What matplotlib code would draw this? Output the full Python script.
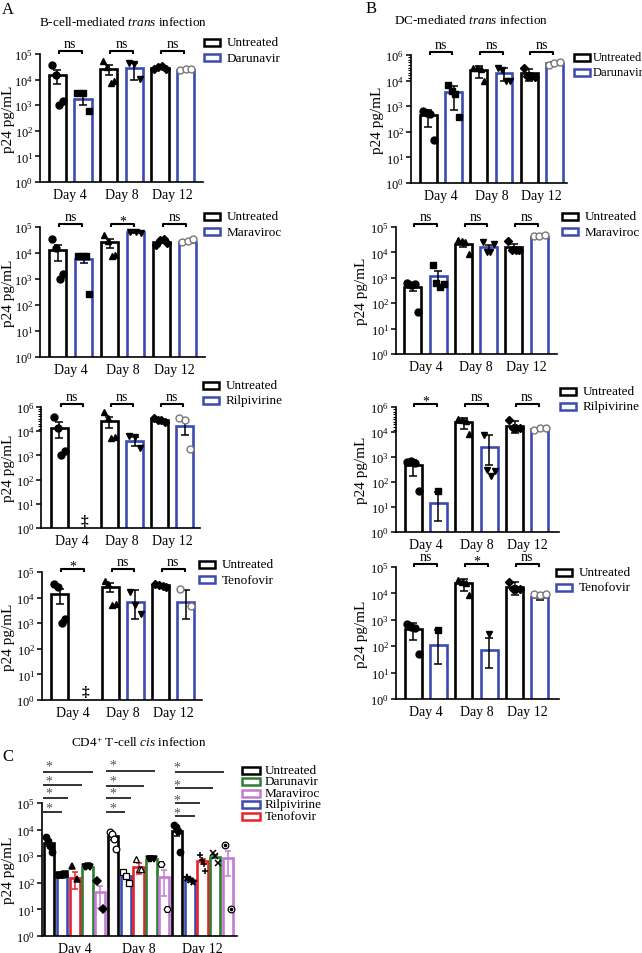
import numpy as np
import matplotlib
matplotlib.use("Agg")
import matplotlib.pyplot as plt
from matplotlib.patches import Rectangle
from matplotlib.ticker import NullFormatter, NullLocator

plt.rcParams['font.family'] = ['Liberation Serif', 'DejaVu Serif']
plt.rcParams['mathtext.fontset'] = 'custom'
plt.rcParams['mathtext.rm'] = 'Liberation Serif'
plt.rcParams['mathtext.it'] = 'Liberation Serif:italic'
plt.rcParams['mathtext.bf'] = 'Liberation Serif:bold'

# ------------------------- data -------------------------
days = ["Day 4", "Day 8", "Day 12"]

# A: B-cell-mediated trans infection
A1_drug = "Darunavir"
A1_unt_mean = [15000, 26000, 28000]
A1_unt_err = [8000, 11000, 3000]
A1_unt_pts = [[37000, 15000, 1000, 1400], [55000, 31000, 7700, 9000], [25000, 31000, 33000, 27000]]
A1_drug_mean = [1700, 28000, 24500]
A1_drug_err = [650, 18000, 1500]
A1_drug_pts = [[3000, 2900, 600], [45000, 42000, 10500], [23000, 25000, 27000]]
A1_sig = ["ns", "ns", "ns"]

A2_drug = "Maraviroc"
A2_unt_mean = [13000, 26000, 27000]
A2_unt_err = [8000, 10000, 3000]
A2_unt_pts = [[35000, 15000, 1000, 1500], [50000, 29000, 7500, 8500], [20000, 32000, 34000, 25000]]
A2_drug_mean = [6000, 62000, 27000]
A2_drug_err = [2000, 3000, 2000]
A2_drug_pts = [[8000, 8000, 7500, 270], [65000, 62000, 60000], [26000, 28000, 35000]]
A2_sig = ["ns", "*", "ns"]

A3_drug = "Rilpivirine"
A3_unt_mean = [14000, 27000, 30000]
A3_unt_err = [9000, 13000, 3000]
A3_unt_pts = [[38000, 14000, 1000, 1500], [60000, 35000, 5000, 5500], [35000, 30000, 28000, 25000]]
A3_drug_mean = [np.nan, 4000, 17000]
A3_drug_err = [0, 1500, 10000]
A3_drug_pts = [[], [6500, 6000, 2000], [35000, 29000, 1800]]
A3_sig = ["ns", "ns", "ns"]

A4_drug = "Tenofovir"
A4_unt_mean = [13500, 27000, 30000]
A4_unt_err = [8000, 10000, 3000]
A4_unt_pts = [[35000, 25000, 1000, 1500], [45000, 35000, 5000, 5500], [35000, 30000, 28000, 25000]]
A4_drug_mean = [np.nan, 7000, 7000]
A4_drug_err = [0, 12000, 12000]
A4_drug_pts = [[], [16000, 5000, 2200], [22000, 4600]]
A4_sig = ["*", "ns", "ns"]

# B: DC-mediated trans infection
B1_drug = "Darunavir"
B1_unt_mean = [450, 25000, 19000]
B1_unt_err = [290, 12000, 9000]
B1_unt_pts = [[650, 550, 500, 48], [32000, 30000, 28000, 10000], [30000, 15000, 15000, 14000]]
B1_drug_mean = [3500, 20000, 48000]
B1_drug_err = [2800, 10000, 5000]
B1_drug_pts = [[6500, 4000, 3000, 380], [32000, 25000, 10000, 10000], [42000, 50000, 55000]]
B1_sig = ["ns", "ns", "ns"]

B2_drug = "Maraviroc"
B2_unt_mean = [430, 21000, 17000]
B2_unt_err = [130, 5000, 3500]
B2_unt_pts = [[600, 520, 550, 45], [30000, 28000, 25000, 8500], [27000, 13000, 13000, 13000]]
B2_drug_mean = [1200, 16000, 42000]
B2_drug_err = [700, 4000, 2000]
B2_drug_pts = [[3300, 600, 420, 550], [25000, 10000, 10000, 22000], [43000, 45000, 47000]]
B2_sig = ["ns", "ns", "ns"]

B3_drug = "Rilpivirine"
B3_unt_mean = [460, 25000, 18000]
B3_unt_err = [290, 12000, 9000]
B3_unt_pts = [[650, 700, 550, 44], [32000, 30000, 27000, 8500], [30000, 15000, 15000, 15000]]
B3_drug_mean = [14, 2500, 13000]
B3_drug_err = [25, 5000, 1500]
B3_drug_pts = [[45], [7500, 300, 180, 280], [12000, 14000, 15000]]
B3_sig = ["*", "ns", "ns"]

B4_drug = "Tenofovir"
B4_unt_mean = [460, 24000, 18000]
B4_unt_err = [290, 12000, 9000]
B4_unt_pts = [[700, 550, 500, 50], [32000, 28000, 25000, 9000], [28000, 15000, 15000, 15000]]
B4_drug_mean = [110, 72, 7000]
B4_drug_err = [300, 140, 1500]
B4_drug_pts = [[420], [300], [9500, 9000, 9200]]
B4_sig = ["ns", "*", "ns"]

# C: CD4+ T-cell cis infection (bar order per day: Untreated, Rilpivirine, Tenofovir, Darunavir, Maraviroc)
C_treatments = ["Untreated", "Rilpivirine", "Tenofovir", "Darunavir", "Maraviroc"]
C_legend_order = ["Untreated", "Darunavir", "Maraviroc", "Rilpivirine", "Tenofovir"]
C_untreated_mean = [3200, 5600, 8700]
C_untreated_err = [700, 1400, 2800]
C_untreated_pts = [[5100, 3800, 2500, 1400], [8300, 6900, 4500, 1870], [15000, 12000, 8500, 1500]]
C_rilpivirine_mean = [200, 178, 133]
C_rilpivirine_err = [10, 40, 15]
C_rilpivirine_pts = [[200, 205, 210], [265, 178, 100], [150, 125, 110]]
C_tenofovir_mean = [155, 390, 650]
C_tenofovir_err = [95, 170, 150]
C_tenofovir_pts = [[445, 140], [790, 330, 340], [1100, 750, 500, 290]]
C_darunavir_mean = [390, 790, 970]
C_darunavir_err = [30, 50, 100]
C_darunavir_pts = [[400, 390, 410, 400], [800, 790, 780], [1300, 1050, 560]]
C_maraviroc_mean = [45, 163, 870]
C_maraviroc_err = [34, 150, 730]
C_maraviroc_pts = [[115, 10], [490, 10], [2650, 10]]
C_sig = [["*", "*", "*", "*"], ["*", "*", "*", "*"], ["*", "*", "*", "*"]]

# ------------------------- styling -------------------------
W, H = 642, 954
fig = plt.figure(figsize=(W / 100, H / 100), dpi=100)
BLUE = "#3b4bb0"
C_colors = {"Untreated": "black", "Rilpivirine": "#3b4bb0", "Tenofovir": "#e8222a",
            "Darunavir": "#2e7d32", "Maraviroc": "#c27bd3"}


def add_ax(x0, x1, y0, y1):
    return fig.add_axes([x0 / W, 1 - y1 / H, (x1 - x0) / W, (y1 - y0) / H])


def px(x, y):
    return x / W, 1 - y / H


def legend_px(x, y, labels, colors, dy=15.5, hw=16, hh=7, fs=9.5, tx=23):
    for k, (lab, col) in enumerate(zip(labels, colors)):
        yy = y + k * dy
        fig.patches.append(Rectangle(px(x, yy + hh / 2), hw / W, hh / H, transform=fig.transFigure,
                                     fill=False, edgecolor=col, lw=1.8))
        fig.text(*px(x + tx, yy), lab, va='center', ha='left', fontsize=fs)


def style_log_axis(ax, top_label, ylabel_x, rect, ticks_top=5):
    ax.set_yscale('log')
    ax.set_ylim(1, 10 ** ticks_top)
    ticks = [10 ** k for k in range(ticks_top + 1)]
    labels = [r"$10^{%d}$" % k for k in range(ticks_top + 1)]
    labels[-1] = r"$10^{%d}$" % top_label
    ax.set_yticks(ticks)
    ax.set_yticklabels(labels, fontsize=9)
    if top_label == 6:
        ax.set_yticks(10 ** np.linspace(4.1, 4.92, 9), minor=True)
    else:
        ax.yaxis.set_minor_locator(NullLocator())
    ax.yaxis.set_minor_formatter(NullFormatter())
    ax.tick_params(axis='y', which='major', length=3.5, width=1.1, pad=1.5, direction='out')
    ax.tick_params(axis='y', which='minor', length=2.2, width=0.8, direction='out')
    ax.tick_params(axis='x', length=0, pad=4, labelsize=10)
    for s in ['top', 'right']:
        ax.spines[s].set_visible(False)
    for s in ['left', 'bottom']:
        ax.spines[s].set_linewidth(1.2)
    x0, x1, y0, y1 = rect
    fig.text(*px(ylabel_x, (y0 + y1) / 2), "p24 pg/mL", rotation=90, ha='center', va='center', fontsize=11)


def sig_brackets(ax, sig):
    for i, s in enumerate(sig):
        a, b = 2 * i + 0.05, 2 * i + 0.95
        ax.plot([a, a, b, b], [10 ** 5.0, 10 ** 5.13, 10 ** 5.13, 10 ** 5.0], color='black', lw=1.5,
                clip_on=False, solid_capstyle='butt')
        yb = 10 ** 5.28 if s == "ns" else 10 ** 5.1
        ax.text((a + b) / 2, yb, s, ha='center', va='baseline', fontsize=10, clip_on=False)


def spread(n, w=0.22):
    return np.linspace(-w, w, n) if n > 1 else np.array([0.0])


def pair_panel(rect, xlim, drug, unt_mean, unt_err, unt_pts, drug_mean, drug_err, drug_pts, sig,
               legend_xy, ylabel_x, top_label=5, dagger=False, tx=23, lfs=9.5):
    ax = add_ax(*rect)
    x_unt = np.array([0, 2, 4])
    x_drug = x_unt + 1
    um = np.array(unt_mean, float)
    dm = np.array(drug_mean, float)
    ue = np.array(unt_err, float)
    de = np.array(drug_err, float)
    ax.bar(x_unt, um, width=0.67, facecolor='white', edgecolor='black', lw=1.9, zorder=2)
    ok = ~np.isnan(dm)
    ax.bar(x_drug[ok], dm[ok], width=0.67, facecolor='white', edgecolor=BLUE, lw=1.9, zorder=2)
    ax.errorbar(x_unt, um, yerr=[np.minimum(ue, um * 0.8), ue], fmt='none', ecolor='black',
                elinewidth=1.1, capsize=3, capthick=1.1, zorder=3)
    ax.errorbar(x_drug[ok], dm[ok], yerr=[np.minimum(de, dm * 0.8)[ok], de[ok]], fmt='none',
                ecolor='black', elinewidth=1.1, capsize=3, capthick=1.1, zorder=3)
    unt_mk = ['o', '^', 'D']
    drug_mk = ['s', 'v', 'o']
    for d in range(3):
        p = unt_pts[d]
        ax.plot(x_unt[d] + spread(len(p)), p, ls='none', marker=unt_mk[d], ms=5 if d < 2 else 4.2,
                color='black', zorder=4, clip_on=False)
        p = drug_pts[d]
        if len(p):
            if d < 2:
                ax.plot(x_drug[d] + spread(len(p)), p, ls='none', marker=drug_mk[d], ms=5,
                        color='black', zorder=4, clip_on=False)
            else:
                ax.plot(x_drug[d] + spread(len(p)), p, ls='none', marker='o', ms=5, mfc='white',
                        mec='#777777', mew=1.0, zorder=4, clip_on=False)
    if dagger:
        ax.text(1, 10 ** 0.33, "\u2021", ha='center', va='center', fontsize=11, fontweight='bold')
    ax.set_xlim(*xlim)
    ax.set_xticks([0.5, 2.5, 4.5])
    ax.set_xticklabels(days)
    style_log_axis(ax, top_label, ylabel_x, rect)
    sig_brackets(ax, sig)
    legend_px(legend_xy[0], legend_xy[1], ["Untreated", drug], ["black", BLUE], tx=tx, fs=lfs)
    return ax


# ------------------------- panels A -------------------------
pair_panel((40, 203, 55, 183), (-0.68, 5.68), A1_drug, A1_unt_mean, A1_unt_err, A1_unt_pts,
           A1_drug_mean, A1_drug_err, A1_drug_pts, A1_sig, (204, 43), 9)
pair_panel((40, 205, 228, 358), (-0.68, 5.67), A2_drug, A2_unt_mean, A2_unt_err, A2_unt_pts,
           A2_drug_mean, A2_drug_err, A2_drug_pts, A2_sig, (204, 217), 9)
pair_panel((41.5, 200, 408, 529), (-0.72, 5.62), A3_drug, A3_unt_mean, A3_unt_err, A3_unt_pts,
           A3_drug_mean, A3_drug_err, A3_drug_pts, A3_sig, (203, 386), 9, top_label=6, dagger=True)
pair_panel((42, 202, 573, 701), (-0.71, 5.64), A4_drug, A4_unt_mean, A4_unt_err, A4_unt_pts,
           A4_drug_mean, A4_drug_err, A4_drug_pts, A4_sig, (199, 565), 9, dagger=True)

# ------------------------- panels B -------------------------
pair_panel((411, 567, 56, 184), (-0.69, 5.5), B1_drug, B1_unt_mean, B1_unt_err, B1_unt_pts,
           B1_drug_mean, B1_drug_err, B1_drug_pts, B1_sig, (574, 58), 378, top_label=6, tx=19, lfs=9)
pair_panel((396, 557, 228, 355), (-0.67, 5.71), B2_drug, B2_unt_mean, B2_unt_err, B2_unt_pts,
           B2_drug_mean, B2_drug_err, B2_drug_pts, B2_sig, (562, 217), 362)
pair_panel((396, 559, 408, 533), (-0.67, 5.75), B3_drug, B3_unt_mean, B3_unt_err, B3_unt_pts,
           B3_drug_mean, B3_drug_err, B3_drug_pts, B3_sig, (560, 392), 362, top_label=6)
pair_panel((396, 559, 568, 700), (-0.67, 5.75), B4_drug, B4_unt_mean, B4_unt_err, B4_unt_pts,
           B4_drug_mean, B4_drug_err, B4_drug_pts, B4_sig, (556, 573), 362)

# ------------------------- panel C -------------------------
rectC = (42, 237, 804, 937)
axC = add_ax(*rectC)
C_means = [C_untreated_mean, C_rilpivirine_mean, C_tenofovir_mean, C_darunavir_mean, C_maraviroc_mean]
C_errs = [C_untreated_err, C_rilpivirine_err, C_tenofovir_err, C_darunavir_err, C_maraviroc_err]
C_pts = [C_untreated_pts, C_rilpivirine_pts, C_tenofovir_pts, C_darunavir_pts, C_maraviroc_pts]
# marker style per (treatment, day): (marker, filled)
C_markers = [[('o', True), ('o', False), ('o', True)],
             [('s', True), ('s', False), ('*', True)],
             [('^', True), ('^', False), ('+', True)],
             [('v', True), ('v', True), ('x', True)],
             [('D', True), ('H', False), ('o', False)]]
for k, tname in enumerate(C_treatments):
    col = C_colors[tname]
    xs = np.arange(3) * 5 + k
    m = np.array(C_means[k], float)
    e = np.array(C_errs[k], float)
    axC.bar(xs, m, width=0.8, facecolor='white', edgecolor=col, lw=1.9, zorder=2)
    axC.errorbar(xs, m, yerr=[np.minimum(e, m * 0.8), e], fmt='none', ecolor=col, elinewidth=1.1,
                 capsize=2.5, capthick=1.1, zorder=3)
    for d in range(3):
        p = C_pts[k][d]
        mk, filled = C_markers[k][d]
        xx = xs[d] + spread(len(p), 0.22)
        if filled:
            axC.plot(xx, p, ls='none', marker=mk, ms=4.5 if mk != '*' else 5.5, color='black',
                     mew=1.1, zorder=4, clip_on=False)
        else:
            axC.plot(xx, p, ls='none', marker=mk, ms=4.8, mfc='white', mec='black', mew=0.9,
                     zorder=4, clip_on=False)
        if k == 4 and d == 2:
            axC.plot(xx, p, ls='none', marker='o', ms=1.6, color='black', zorder=5, clip_on=False)

axC.set_xlim(-0.55, 14.69)
axC.set_xticks([2, 7, 12])
axC.set_xticklabels(days)
style_log_axis(axC, 5, 9, rectC)

# significance lines in C (log10 heights for lines and asterisk centres)
C_line_levels = [[4.675, 5.19, 5.675, 6.175], [4.65, 5.175, 5.625, 6.21], [4.525, 4.99, 5.55, 6.15]]
C_star_levels = [[4.99, 5.525, 6.0, 6.55], [4.99, 5.525, 6.0, 6.61], [4.8, 5.275, 5.84, 6.525]]
C_line_start = [-0.47, -0.57, -0.12]
C_line_ends = [[1.0, 1.5, 2.6, 3.4], [0.91, 1.38, 2.4, 3.26], [1.37, 1.76, 2.85, 3.71]]
for d in range(3):
    base = 5 * d
    for j in range(4):
        yl = 10 ** C_line_levels[d][j]
        axC.plot([base + C_line_start[d], base + C_line_ends[d][j]], [yl, yl], color='#333333', lw=1.4,
                 clip_on=False, solid_capstyle='butt')
        axC.text(base + 0.0, 10 ** (C_star_levels[d][j] - 0.3), C_sig[d][j], ha='center', va='baseline',
                 fontsize=10, color='#555555', clip_on=False)

legend_px(242, 771, C_legend_order, [C_colors[t] for t in C_legend_order], dy=11.5, hw=18, hh=7, tx=23)

# ------------------------- titles & panel letters -------------------------
fig.text(*px(123, 22), r"B-cell-mediated $\mathit{trans}$ infection", ha='center', va='center', fontsize=9.5)
fig.text(*px(471, 20), r"DC-mediated $\mathit{trans}$ infection", ha='center', va='center', fontsize=9.5)
fig.text(*px(139, 743), r"CD4$^{+}$ T-cell $\mathit{cis}$ infection", ha='center', va='center', fontsize=9.5)
fig.text(*px(2, 10), "A", ha='left', va='center', fontsize=12)
fig.text(*px(366, 9), "B", ha='left', va='center', fontsize=12)
fig.text(*px(2, 757), "C", ha='left', va='center', fontsize=12)

fig.savefig("out.png", dpi=100)
